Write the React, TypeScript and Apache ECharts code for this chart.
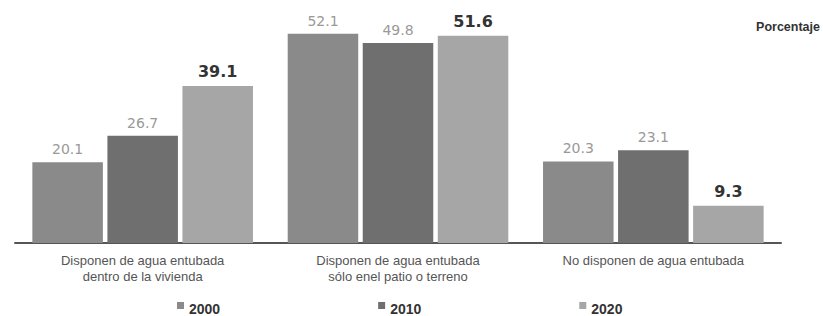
import React, { useEffect, useRef } from "react";
import * as echarts from "echarts";

const categories = [
  "Disponen de agua entubada\ndentro de la vivienda",
  "Disponen de agua entubada\nsólo enel patio o terreno",
  "No disponen de agua entubada",
];
const years = ["2000", "2010", "2020"];
const values2000 = [20.1, 52.1, 20.3];
const values2010 = [26.7, 49.8, 23.1];
const values2020 = [39.1, 51.6, 9.3];
const colors = ["#8a8a8a", "#6f6f6f", "#a6a6a6"];

export default function App() {
  const ref = useRef<HTMLDivElement>(null);
  useEffect(() => {
    if (!ref.current) return;
    const chart = echarts.init(ref.current, undefined, { renderer: "svg" });
    const font = "'Liberation Sans', Arial, sans-serif";
    const labelFont = "'DejaVu Sans', Verdana, sans-serif";
    const seriesData = [values2000, values2010, values2020];
    chart.setOption({
      animation: false,
      backgroundColor: "#ffffff",
      textStyle: { fontFamily: font },
      grid: { left: 15, right: 42, top: 2, height: 241, containLabel: false },
      legend: {
        left: 172,
        top: 297,
        itemWidth: 7,
        itemHeight: 14,
        itemGap: 158,
        icon: "path://M0,0h7v7h-7z M0,13.9h0.01v0.1h-0.01z",
        data: years,
        textStyle: { fontFamily: font, fontSize: 14, fontWeight: "bold", color: "#333" },
      },
      graphic: [
        {
          type: "text",
          right: 3,
          top: 20,
          style: { text: "Porcentaje", font: `bold 12.5px ${font}`, fill: "#333" },
        },
      ],
      xAxis: {
        type: "category",
        data: categories,
        axisLine: { show: true, lineStyle: { color: "#555", width: 2 } },
        axisTick: { show: false },
        axisLabel: {
          color: "#555",
          fontSize: 13,
          lineHeight: 16,
          margin: 9,
          fontFamily: font,
        },
      },
      yAxis: {
        type: "value",
        min: 0,
        max: 60,
        show: false,
        splitLine: { show: false },
      },
      series: years.map((y, i) => ({
        name: y,
        type: "bar",
        data: seriesData[i],
        barGap: "6.4%",
        barCategoryGap: "13.6%",
        itemStyle: { color: colors[i] },
        label: {
          show: true,
          position: "top",
          distance: 6,
          fontFamily: labelFont,
          fontSize: i === 2 ? 16 : 14,
          fontWeight: i === 2 ? "bold" : "normal",
          color: i === 2 ? "#333" : "#999",
          formatter: (p: any) => p.value.toFixed(1),
        },
      })),
    });
    return () => chart.dispose();
  }, []);
  return (
    <div
      ref={ref}
      style={{ position: "fixed", left: 0, top: 0, width: 823, height: 316 }}
    />
  );
}
